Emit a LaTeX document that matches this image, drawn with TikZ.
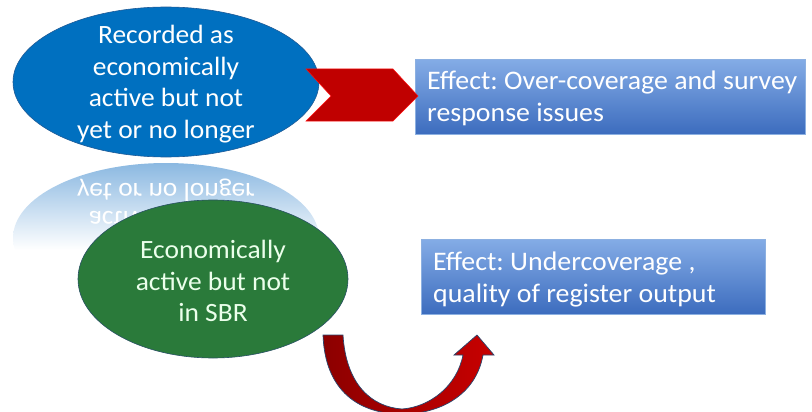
\documentclass[tikz,border=0pt]{standalone}
\usepackage{fontspec}
\setmainfont[FakeStretch=1.04]{Carlito}
\usetikzlibrary{shapes.geometric,calc}
\frenchspacing
\definecolor{ellblue}{RGB}{0,112,192}
\definecolor{ellblueedge}{RGB}{30,90,150}
\definecolor{ellgreen}{RGB}{42,122,58}
\definecolor{edgegreen}{RGB}{40,80,100}
\definecolor{reflblue}{RGB}{135,182,224}
\definecolor{boxtop}{RGB}{132,172,230}
\definecolor{boxbot}{RGB}{60,108,190}
\definecolor{boxedge}{RGB}{140,176,225}
\definecolor{chevred}{RGB}{192,0,0}
\definecolor{chevedge}{RGB}{255,20,20}
\definecolor{arrdark}{RGB}{140,0,0}
\definecolor{arrlight}{RGB}{200,0,0}
\definecolor{arredge}{RGB}{40,70,110}
\tikzset{
  ovalshape/.style={ellipse, inner sep=0pt, line width=0.6pt},
  ovaltext/.style={text=white, align=center, font=\fontsize{26.4}{31.6}\selectfont\frenchspacing, inner sep=0pt},
  effectbox/.style={rectangle, anchor=north west, inner sep=0pt, top color=boxtop, bottom color=boxbot, draw=boxedge, line width=0.6pt},
  boxtext/.style={text=white, align=left, anchor=west, font=\fontsize{26.8}{32}\selectfont\frenchspacing, inner sep=0pt},
  refltext/.style={text=white, font=\fontsize{26.4}{31.6}\selectfont, inner sep=0pt}
}
\begin{document}
\begin{tikzpicture}[x=1pt,y=-1pt]
\useasboundingbox (0,0) rectangle (812,412);

% reflection of the blue ellipse
\begin{scope}
  \clip (166,238) ellipse [x radius=153, y radius=75];
  \clip (0,160) rectangle (812,250);
  \shade[top color=reflblue, bottom color=white] (0,160) rectangle (812,250);
  \node[refltext] (r1) at (166,190) {\scalebox{1}[-1]{yet or no longer}};
  \node[refltext] (r2) at (166,221) {\scalebox{1}[-1]{active but not}};
\end{scope}

% blue ellipse
\node[ovalshape, fill=ellblue, draw=ellblueedge, minimum width=306pt, minimum height=150pt] (rec) at (166,82) {};
\node[ovaltext] (rect) at (166,84) {Recorded as\\economically\\active but not\\yet or no longer};

% green ellipse
\node[ovalshape, fill=ellgreen, draw=edgegreen, minimum width=270pt, minimum height=158pt] (eco) at (213,279) {};
\node[ovaltext, text=white!92!green] (ecot) at (213,281) {Economically\\active but not\\in SBR};

% effect boxes
\node[effectbox, minimum width=390pt, minimum height=75pt] (eff1) at (415,59) {};
\node[boxtext] (eff1t) at (427,98) {Effect: Over-coverage and survey\\response issues};
\node[effectbox, minimum width=344pt, minimum height=75pt] (eff2) at (421,239) {};
\node[boxtext] (eff2t) at (433,279) {Effect: Undercoverage ,\\quality of register output};

% chevron from blue ellipse to first box
\fill[chevred, draw=chevedge, line width=0.5pt]
  (306,69) -- (393,69) -- (418,96) -- (393,121) -- (306,121) -- (331,96) -- cycle;

% curved arrow from green ellipse up to second box
\shade[left color=arrdark, right color=arrlight, draw=arredge, line width=0.7pt]
  (323,335) -- (343,335)
  .. controls (346,385) and (372,407) .. (402,409)
  .. controls (430,407) and (457,386) .. (463,355)
  -- (454,355) -- (477,335) -- (494,355) -- (483,355)
  .. controls (476,395) and (440,414) .. (402,414)
  .. controls (360,414) and (325,392) .. (323,335) -- cycle;
\end{tikzpicture}
\end{document}
